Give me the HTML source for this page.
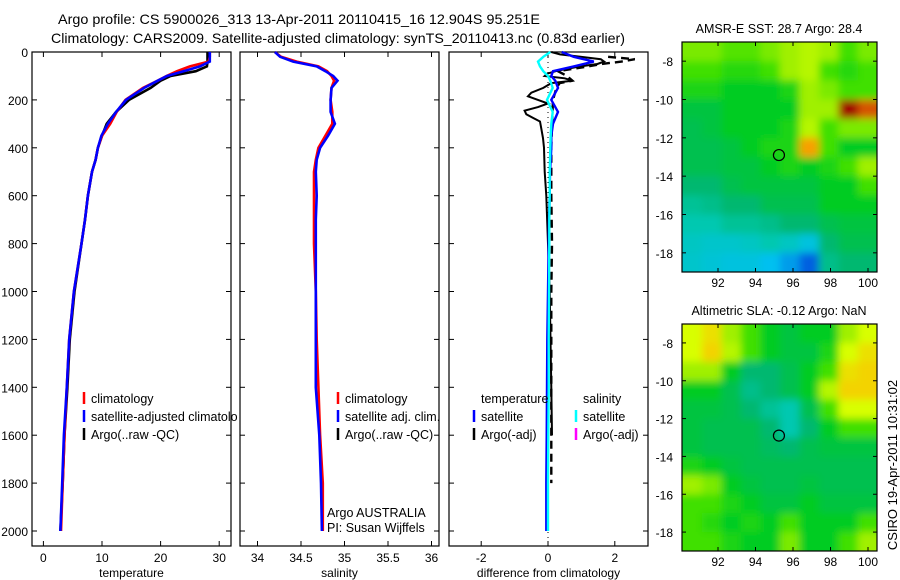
<!DOCTYPE html>
<html><head><meta charset="utf-8"><style>
html,body{margin:0;padding:0;background:#fff;}
svg{display:block;font-family:"Liberation Sans",sans-serif;}
text{fill:#000;}
</style></head><body>
<svg id="fig" width="900" height="580" viewBox="0 0 900 580" xmlns="http://www.w3.org/2000/svg">
<defs>
<filter id="smooth" x="-5%" y="-5%" width="110%" height="110%"><feGaussianBlur stdDeviation="4"/></filter>
<clipPath id="m1"><rect x="682" y="42" width="195" height="230"/></clipPath>
<clipPath id="m2"><rect x="682" y="324" width="195" height="227"/></clipPath>
<clipPath id="c1"><rect x="32" y="380" width="206" height="80"/></clipPath>
</defs>
<text x="58" y="24" font-size="14" textLength="482" lengthAdjust="spacingAndGlyphs">Argo profile: CS 5900026_313 13-Apr-2011 20110415_16 12.904S 95.251E</text>
<text x="51" y="43" font-size="14" textLength="574" lengthAdjust="spacingAndGlyphs">Climatology: CARS2009. Satellite-adjusted climatology: synTS_20110413.nc (0.83d earlier)</text>
<text font-size="13" transform="translate(897,465) rotate(-90)" text-anchor="middle">CSIRO 19-Apr-2011 10:31:02</text>
</svg>
<script>
// ---------- data ----------
const depths = [0,20,40,60,80,100,120,150,200,250,300,350,400,450,500,600,700,800,1000,1200,1400,1600,1800,2000];
const tempClim = [28.4,28.4,28.2,25.0,22.8,21.0,19.5,17.0,14.0,12.5,11.4,10.0,9.3,8.9,8.3,7.6,7.1,6.5,5.2,4.4,4.0,3.6,3.3,3.0];
const tempSat  = [28.4,28.4,28.4,26.7,23.9,21.1,19.5,17.2,14.1,12.4,11.0,9.9,9.3,8.9,8.3,7.6,7.1,6.5,5.2,4.4,4.0,3.5,3.2,2.9];
const tempArgo = [28.0,28.0,28.0,27.9,26.0,21.7,20.0,18.3,14.6,12.4,10.8,10.0,9.3,8.9,8.3,7.6,7.1,6.5,5.3,4.5,4.1,3.6,3.3,2.9];
const salClim  = [34.20,34.27,34.45,34.70,34.80,34.85,34.88,34.85,34.84,34.86,34.86,34.78,34.70,34.67,34.65,34.65,34.65,34.65,34.67,34.68,34.70,34.72,34.75,34.75];
const salSat   = [34.20,34.26,34.41,34.68,34.78,34.87,34.92,34.85,34.84,34.84,34.89,34.81,34.72,34.68,34.67,34.68,34.67,34.67,34.67,34.67,34.67,34.71,34.73,34.74];
const diffTempSat = [0.41,0.77,1.37,0.77,0.15,0.10,0.22,0.30,0.10,0.30,0.15,0.10,0.10,0.08,0.06,0.05,0.03,0.02,0.0,-0.02,-0.03,-0.04,-0.05,-0.05];
const diffSalSat  = [0.07,-0.14,-0.30,-0.24,-0.14,0.0,0.07,0.14,-0.03,0.14,0.10,0.08,0.07,0.06,0.05,0.05,0.04,0.04,0.03,0.02,0.02,0.01,0.0,0.0];
const diffDepthsArgo = [0,10,20,30,40,50,60,70,80,90,100,110,120,130,150,170,185,200,215,230,245,260,275,290,320,360,400,500,600,800,1000,1400,1600];
const diffTempArgo = [0.1,0.36,0.97,1.58,1.68,1.48,0.97,0.57,0.23,-0.02,-0.1,0.5,0.73,0.1,-0.14,-0.5,-0.6,-0.3,0.0,-0.3,-0.7,-0.65,-0.45,-0.24,-0.2,-0.15,-0.12,-0.1,-0.05,0.0,0.05,0.1,0.12];
const diffSalArgoDepths = [20,30,40,50,60,80,100,120,130,150,200,300,400,600,800,1000,1400,1800];
const diffSalArgo = [1.8,2.6,2.2,1.6,1.2,0.3,0.57,0.73,0.35,0.25,0.15,0.12,0.1,0.1,0.12,0.1,0.1,0.1];
const depthTicks = [0,200,400,600,800,1000,1200,1400,1600,1800,2000];
const tempTicks = [0,10,20,30];
const salTicks = [34,34.5,35,35.5,36];
const diffTicks = [-2,0,2];
const lonTicks = [92,94,96,98,100];
const latTicks = [-8,-10,-12,-14,-16,-18];
const mapLons = [90.1,91.14,92.18,93.22,94.26,95.3,96.34,97.38,98.42,99.46,100.5];
const mapLats = [-7,-8,-9,-10,-11,-12,-13,-14,-15,-16,-17,-18,-19];
const sstGrid = [
[.58,.58,.56,.56,.58,.60,.62,.60,.55,.58],
[.55,.55,.53,.53,.55,.60,.62,.55,.53,.55],
[.52,.52,.50,.50,.50,.52,.60,.58,.55,.55],
[.48,.48,.50,.50,.50,.50,.60,.60,1.0,.90],
[.47,.48,.50,.50,.50,.52,.62,.55,.58,.58],
[.47,.47,.48,.50,.52,.52,.80,.55,.50,.50],
[.47,.47,.48,.48,.50,.52,.50,.52,.55,.60],
[.45,.45,.47,.48,.48,.48,.48,.50,.50,.55],
[.42,.43,.45,.45,.47,.47,.47,.50,.50,.50],
[.40,.40,.42,.42,.43,.45,.45,.47,.48,.48],
[.38,.37,.37,.38,.40,.38,.35,.45,.47,.47],
[.37,.36,.35,.35,.33,.30,.25,.43,.45,.45]];
const slaGrid = [
[.65,.70,.60,.55,.50,.48,.50,.50,.60,.65],
[.65,.72,.62,.55,.50,.48,.48,.52,.65,.70],
[.60,.60,.50,.45,.45,.47,.50,.55,.70,.72],
[.50,.50,.47,.43,.45,.47,.50,.62,.72,.72],
[.48,.48,.47,.45,.42,.40,.47,.55,.65,.65],
[.48,.47,.47,.47,.45,.40,.45,.50,.55,.55],
[.48,.47,.47,.47,.46,.45,.47,.48,.48,.48],
[.52,.50,.48,.47,.47,.47,.47,.47,.47,.47],
[.60,.58,.50,.48,.47,.47,.48,.47,.47,.47],
[.55,.55,.52,.50,.48,.48,.50,.48,.48,.48],
[.55,.53,.50,.52,.50,.55,.50,.50,.50,.55],
[.55,.55,.52,.50,.50,.58,.50,.50,.55,.60]];
const argoLon = 95.25, argoLat = -12.9;

// ---------- helpers ----------
const svg = document.getElementById('fig');
const NS = 'http://www.w3.org/2000/svg';
function mk(tag, attrs, parent){const e=document.createElementNS(NS,tag);for(const k in attrs)e.setAttribute(k,attrs[k]);(parent||svg).appendChild(e);return e;}
const yD = d => 52 + d*0.2395;
function txt(x,y,s,size,anchor,parent){const t=mk('text',{x:x,y:y,'font-size':size||12,'text-anchor':anchor||'start'},parent);t.textContent=s;return t;}

const panels = [
 {name:'temperature-panel', x0:32, x1:231, sx:v=>43.4+v*5.86, ticks:tempTicks, title:'temperature'},
 {name:'salinity-panel', x0:240, x1:439, sx:v=>257.5+(v-34)*87, ticks:salTicks, title:'salinity'},
 {name:'difference-panel', x0:449, x1:648, sx:v=>548+v*33.4, ticks:diffTicks, title:'difference from climatology'}
];
panels.forEach((p,i)=>{
  const g = mk('g',{});
  
  
  const f = mk('rect',{x:p.x0,y:52,width:p.x1-p.x0,height:494,fill:'none',stroke:'#000','stroke-width':1.2},g);
  
  
  depthTicks.forEach(d=>{
    mk('line',{x1:p.x0,x2:p.x0+5,y1:yD(d),y2:yD(d),stroke:'#000'},g);
    mk('line',{x1:p.x1-5,x2:p.x1,y1:yD(d),y2:yD(d),stroke:'#000'},g);
    if(i===0){const t=txt(28,yD(d)+5,String(d),12,'end',g);
      
      }
  });
  p.ticks.forEach(v=>{
    const x=p.sx(v);
    mk('line',{x1:x,x2:x,y1:52,y2:57,stroke:'#000'},g);
    mk('line',{x1:x,x2:x,y1:541,y2:546,stroke:'#000'},g);
    const t=txt(x,562,String(v),12,'middle',g);
    
    
  });
  const at=txt((p.x0+p.x1)/2,577,p.title,12,'middle',g);
  
  
});
function line(xs, ds, sx, color, name, w, dash){
  const pts = xs.map((v,k)=>sx(v).toFixed(1)+','+yD(ds[k]).toFixed(1)).join(' ');
  const l = mk('polyline',{points:pts,fill:'none',stroke:color,'stroke-width':w||2.6,'stroke-linejoin':'miter'});
  if(dash) l.setAttribute('stroke-dasharray',dash);
  
  
  return l;
}
const P=panels;
line(tempArgo,depths,P[0].sx,'#000','temp-argo-line');
line(tempClim,depths,P[0].sx,'#f00','temp-climatology-line');
line(tempSat,depths,P[0].sx,'#00f','temp-satellite-line');
line(salClim,depths,P[1].sx,'#f00','salinity-climatology-line');
line(salSat,depths,P[1].sx,'#00f','salinity-satellite-line');
const zl = mk('line',{x1:P[2].sx(0),x2:P[2].sx(0),y1:52,y2:546,stroke:'#000','stroke-dasharray':'1,4'});


line(diffSalArgo,diffSalArgoDepths,P[2].sx,'#000','salinity-argo-diff-line',2.4,'8,5');
line(diffTempArgo,diffDepthsArgo,P[2].sx,'#000','temp-argo-diff-line',2);
line(diffTempSat,depths,P[2].sx,'#00f','temp-satellite-diff-line',2.4);
line(diffSalSat,depths,P[2].sx,'#0ff','salinity-satellite-diff-line',2.4);

// legends
function legend(x,y,color,label,name,clip){
  const g=mk('g',{});
  if(clip) g.setAttribute('clip-path','url(#c1)');
  
  
  mk('line',{x1:x,x2:x,y1:y-11,y2:y+1,stroke:color,'stroke-width':2.5},g);
  txt(x+7,y,label,12.5,'start',g);
}
legend(84,403,'#f00','climatology','legend-climatology',true);
legend(84,421,'#00f','satellite-adjusted climatology','legend-satellite-adjusted',true);
legend(84,439,'#000','Argo(..raw -QC)','legend-argo',true);
legend(338,403,'#f00','climatology','legend-sal-climatology');
legend(338,421,'#00f','satellite adj. clim.','legend-sal-satellite');
legend(338,439,'#000','Argo(..raw -QC)','legend-sal-argo');
const t1=txt(481,403,'temperature',12.5);  
legend(474,421,'#00f','satellite','legend-temp-satellite');
legend(474,439,'#000','Argo(-adj)','legend-temp-argo');
const t2=txt(583,403,'salinity',12.5);  
legend(576,421,'#0ff','satellite','legend-sal-satellite-diff');
legend(576,439,'#f0f','Argo(-adj)','legend-sal-argo-diff');
const a1=txt(327,517,'Argo AUSTRALIA',12.5);  
const a2=txt(327,532,'PI: Susan Wijffels',12.5);  

// ---------- maps ----------
const stops=[[.25,[0,96,224]],[.33,[0,192,240]],[.40,[0,200,176]],[.45,[0,184,112]],[.50,[0,204,32]],[.55,[64,224,0]],[.60,[160,240,0]],[.65,[216,255,0]],[.75,[255,192,0]],[.85,[240,128,0]],[1,[160,0,0]]];
function cmap(v){
  if(v<=stops[0][0]) return 'rgb('+stops[0][1]+')';
  for(let i=1;i<stops.length;i++){ if(v<=stops[i][0]){const a=stops[i-1],b=stops[i],t=(v-a[0])/(b[0]-a[0]);
    return 'rgb('+a[1].map((c,k)=>Math.round(c+(b[1][k]-c)*t)).join(',')+')';}}
  return 'rgb('+stops[stops.length-1][1]+')';
}
function drawMap(top,bottom,grid,title,name,clipId){
  const x0=682,x1=877;
  const sx=lon=>718+(lon-92)*18.75;
  const lat0=-7, lat1=-19;
  const sy=lat=>top+(lat0-lat)/(lat0-lat1)*(bottom-top);
  const g=mk('g',{});
  
  
  const clipG=mk('g',{'clip-path':'url(#'+clipId+')'},g);
  const cells=mk('g',{filter:'url(#smooth)'},clipG);
  const nr=grid.length, nc=grid[0].length;
  grid.forEach((row,r)=>row.forEach((v,c)=>{
    let xa=sx(mapLons[c]),xb=sx(mapLons[c+1]),ya=sy(mapLats[r]),yb=sy(mapLats[r+1]);
    if(c===0) xa-=14; if(c===nc-1) xb+=14; if(r===0) ya-=14; if(r===nr-1) yb+=14;
    const cell=mk('rect',{x:xa.toFixed(1),y:ya.toFixed(1),width:(xb-xa+0.6).toFixed(1),height:(yb-ya+0.6).toFixed(1),fill:cmap(v)},cells);
    
    
  }));
  mk('rect',{x:x0,y:top,width:x1-x0,height:bottom-top,fill:'none',stroke:'#000','stroke-width':1.2},g);
  const ci=mk('circle',{cx:sx(argoLon),cy:sy(argoLat),r:5.5,fill:'none',stroke:'#000','stroke-width':1.2},g);
  
  
  latTicks.forEach(l=>{const y=sy(l);
    mk('line',{x1:x0,x2:x0+4,y1:y,y2:y,stroke:'#000'},g);mk('line',{x1:x1-4,x2:x1,y1:y,y2:y,stroke:'#000'},g);
    const t=txt(673,y+5,String(l),12,'end',g);
    
    });
  lonTicks.forEach(l=>{const x=sx(l);
    mk('line',{x1:x,x2:x,y1:top,y2:top+4,stroke:'#000'},g);mk('line',{x1:x,x2:x,y1:bottom-4,y2:bottom,stroke:'#000'},g);
    const t=txt(x,bottom+15,String(l),12,'middle',g);
    
    });
  const tt=txt(779,top-9,title,12.5,'middle',g);
  
  
}
drawMap(42,272,sstGrid,'AMSR-E SST: 28.7 Argo: 28.4','sst-map','m1');
drawMap(324,551,slaGrid,'Altimetric SLA: -0.12 Argo: NaN','sla-map','m2');
</script>
</body></html>
